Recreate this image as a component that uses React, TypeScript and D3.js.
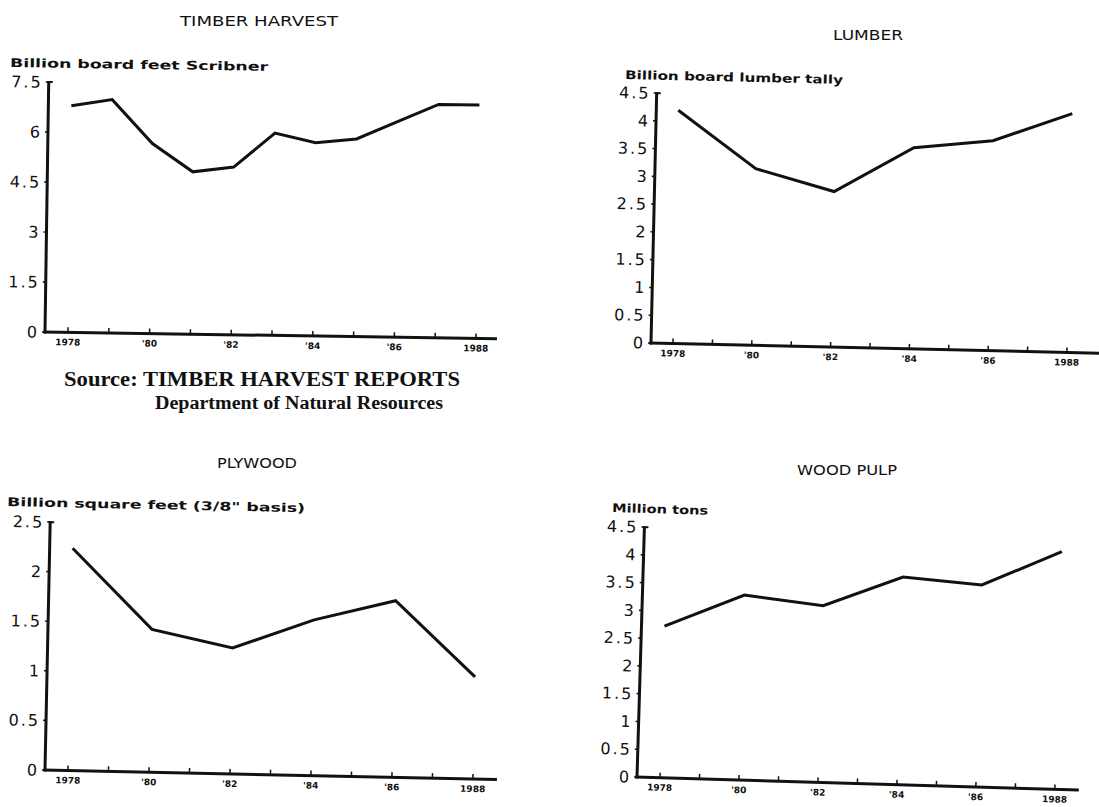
import React from "react";
import * as d3 from "d3";

// ---------- data ----------
const timberYears = [1978, 1979, 1980, 1981, 1982, 1983, 1984, 1985, 1986, 1987, 1988];
const timberValues = [6.8, 7.0, 5.7, 4.87, 5.03, 6.07, 5.8, 5.93, 6.47, 7.0, 7.0];

const productYears = [1978, 1980, 1982, 1984, 1986, 1988];
const lumberValues = [4.2, 3.18, 2.8, 3.62, 3.78, 4.3];
const plywoodValues = [2.24, 1.44, 1.27, 1.57, 1.78, 1.03];
const pulpValues = [2.73, 3.33, 3.18, 3.74, 3.64, 4.28];

const xTickYears = [1978, 1979, 1980, 1981, 1982, 1983, 1984, 1985, 1986, 1987, 1988];
const xLabelYears = [1978, 1980, 1982, 1984, 1986, 1988];
const xLabels = ["1978", "'80", "'82", "'84", "'86", "1988"];

const timberTicks = [0, 1.5, 3, 4.5, 6, 7.5];
const timberTickLabels = ["0", "1.5", "3", "4.5", "6", "7.5"];
const halfTicks = [0, 0.5, 1, 1.5, 2, 2.5, 3, 3.5, 4, 4.5];
const halfTickLabels = ["0", "0.5", "1", "1.5", "2", "2.5", "3", "3.5", "4", "4.5"];
const plyTicks = [0, 0.5, 1, 1.5, 2, 2.5];
const plyTickLabels = ["0", "0.5", "1", "1.5", "2", "2.5"];

// ---------- layout ----------
type Cfg = {
  ox: number; oy: number; angle: number; w: number; h: number; yMax: number;
  x0: number; perYear: number;
  title: string; titleX: number; titleY: number; titleLen: number;
  ylabel: string; ylabelX: number; ylabelY: number; ylabelLen: number;
};

const cfgTimber: Cfg = {
  ox: 45, oy: 332, angle: 0.85, w: 452, h: 250, yMax: 7.5, x0: 23, perYear: 40.8,
  title: "TIMBER HARVEST", titleX: 259, titleY: 26, titleLen: 158,
  ylabel: "Billion board feet Scribner", ylabelX: 10, ylabelY: 67, ylabelLen: 258,
};
const cfgLumber: Cfg = {
  ox: 651, oy: 343, angle: 1.3, w: 455, h: 250, yMax: 4.5, x0: 22, perYear: 39.4,
  title: "LUMBER", titleX: 868, titleY: 40, titleLen: 70,
  ylabel: "Billion board lumber tally", ylabelX: 625, ylabelY: 79, ylabelLen: 218,
};
const cfgPly: Cfg = {
  ox: 45, oy: 770, angle: 1.2, w: 452, h: 248, yMax: 2.5, x0: 23, perYear: 40.5,
  title: "PLYWOOD", titleX: 257, titleY: 468, titleLen: 80,
  ylabel: "Billion square feet (3/8\" basis)", ylabelX: 7, ylabelY: 506, ylabelLen: 298,
};
const cfgPulp: Cfg = {
  ox: 637, oy: 777, angle: 1.7, w: 442, h: 250, yMax: 4.5, x0: 23, perYear: 39.5,
  title: "WOOD PULP", titleX: 847, titleY: 475, titleLen: 100,
  ylabel: "Million tons", ylabelX: 612, ylabelY: 512, ylabelLen: 96,
};

const INK = "#111";
const plotFont = "'DejaVu Sans', 'Liberation Sans', sans-serif";
const serifFont = "'Liberation Serif', 'Times New Roman', serif";

function Panel({ cfg, years, values, ticks, tickLabels }: {
  cfg: Cfg; years: number[]; values: number[]; ticks: number[]; tickLabels: string[];
}) {
  const x = d3.scaleLinear().domain([1978, 1988]).range([cfg.x0, cfg.x0 + 10 * cfg.perYear]);
  const y = d3.scaleLinear().domain([0, cfg.yMax]).range([0, -cfg.h]);
  const line = d3.line<number>().x((_, i) => x(years[i])).y((d) => y(d));
  return (
    <g>
      <text x={cfg.titleX} y={cfg.titleY} textAnchor="middle" fontFamily={plotFont}
        fontSize={14} textLength={cfg.titleLen} lengthAdjust="spacingAndGlyphs" fill={INK}>{cfg.title}</text>
      <text transform={`translate(${cfg.ylabelX},${cfg.ylabelY}) rotate(${cfg.angle})`}
        fontFamily={plotFont} fontSize={12} fontWeight={600} textLength={cfg.ylabelLen}
        lengthAdjust="spacingAndGlyphs" fill={INK}>{cfg.ylabel}</text>
      <g transform={`translate(${cfg.ox},${cfg.oy}) rotate(${cfg.angle})`}>
        {/* y axis */}
        <line x1={0} y1={1.5} x2={0} y2={-cfg.h} stroke={INK} strokeWidth={3} />
        <line x1={-1.5} y1={-cfg.h} x2={4} y2={-cfg.h} stroke={INK} strokeWidth={2} />
        {ticks.map((t, i) => (
          <g key={"yt" + i}>
            <line x1={-3} x2={0} y1={y(t)} y2={y(t)} stroke={INK} strokeWidth={1.5} />
            <text x={-6} y={y(t)} dy="0.36em" textAnchor="end" fontFamily={plotFont}
              fontSize={16} letterSpacing={2} fill={INK}>{tickLabels[i]}</text>
          </g>
        ))}
        {/* x axis */}
        <line x1={-1.5} y1={0} x2={cfg.w} y2={0} stroke={INK} strokeWidth={3} />
        {xTickYears.map((yr) => (
          <line key={"xt" + yr} x1={x(yr)} x2={x(yr)} y1={0} y2={-5} stroke={INK} strokeWidth={1.5} />
        ))}
        {xLabelYears.map((yr, i) => (
          <text key={"xl" + yr} x={x(yr)} y={13} textAnchor="middle" fontFamily={plotFont}
            fontSize={9} fontWeight="bold" fill={INK}>{xLabels[i]}</text>
        ))}
        {/* series */}
        <path d={line(values) || ""} fill="none" stroke={INK} strokeWidth={3} strokeLinejoin="miter" />
      </g>
    </g>
  );
}

export default function App() {
  return (
    <svg width={1099} height={807} viewBox="0 0 1099 807"
      style={{ position: "absolute", left: 0, top: 0, background: "#fff" }}>
      <rect x={0} y={0} width={1099} height={807} fill="#fff" />
      <Panel cfg={cfgTimber} years={timberYears} values={timberValues} ticks={timberTicks} tickLabels={timberTickLabels} />
      <Panel cfg={cfgLumber} years={productYears} values={lumberValues} ticks={halfTicks} tickLabels={halfTickLabels} />
      <Panel cfg={cfgPly} years={productYears} values={plywoodValues} ticks={plyTicks} tickLabels={plyTickLabels} />
      <Panel cfg={cfgPulp} years={productYears} values={pulpValues} ticks={halfTicks} tickLabels={halfTickLabels} />
      <text x={64} y={386} fontFamily={serifFont} fontSize={21} fontWeight="bold" fill={INK}
        textLength={396} lengthAdjust="spacingAndGlyphs">Source: TIMBER HARVEST REPORTS</text>
      <text x={155} y={409} fontFamily={serifFont} fontSize={18} fontWeight="bold" fill={INK}
        textLength={288} lengthAdjust="spacingAndGlyphs">Department of Natural Resources</text>
    </svg>
  );
}
